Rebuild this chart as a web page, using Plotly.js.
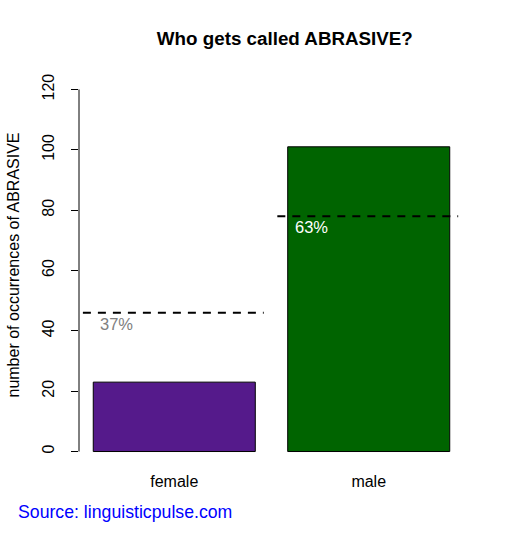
<!DOCTYPE html>
<html>
<head>
<meta charset="utf-8">
<script src="https://cdn.plot.ly/plotly-3.0.1.min.js"></script>
<style>
  body { margin: 0; background: #fff; }
</style>
</head>
<body>
<div id="myDiv"></div>
<script>
// Who gets called ABRASIVE? -- counts by gender, with expected share line

// data
const categories = ['female', 'male'];
const counts = [23, 101];
const expected = [46, 78];          // dashed reference line per bar
const shares = ['37%', '63%'];
const yTicks = [0, 20, 40, 60, 80, 100, 120];

// styles
const barColors = ['#551A8B', '#006400'];
const shareColors = ['#808080', '#FFFFFF'];
const FONT = 'Liberation Sans, Arial, sans-serif';

let trace = {
    type: 'bar',
    x: categories,
    y: counts,
    width: 0.8333,
    marker: {
        color: barColors,
        line: { color: '#000000', width: 1 }
    },
    hoverinfo: 'none'
};

// dashed lines over each bar
let shapes = [];
for (let i = 0; i < categories.length; i++) {
    shapes.push({
        type: 'line', xref: 'x', yref: 'y',
        x0: i - 0.47, x1: i + 0.46,
        y0: expected[i], y1: expected[i],
        line: { color: '#000000', width: 2, dash: '8px,7px' }
    });
}
// y axis line only from 0 to 120 like R
shapes.push({
    type: 'line', xref: 'paper', yref: 'y',
    x0: 0, x1: 0, y0: yTicks[0], y1: yTicks[yTicks.length - 1],
    line: { color: '#000000', width: 1 }
});

let annotations = [];
for (let i = 0; i < categories.length; i++) {
    annotations.push({
        xref: 'x', yref: 'y',
        x: i - 0.296, y: expected[i] - 3.6,
        text: shares[i], showarrow: false,
        xanchor: 'center', yanchor: 'middle',
        font: { family: FONT, size: 16.5, color: shareColors[i] }
    });
}
// y axis title
annotations.push({
    xref: 'paper', yref: 'paper', x: 0, y: 0.5,
    xshift: -66, yshift: 5,
    text: 'number of occurrences of ABRASIVE', textangle: -90,
    showarrow: false, xanchor: 'center', yanchor: 'middle',
    font: { family: FONT, size: 16, color: '#000000' }
});
// source note
annotations.push({
    xref: 'paper', yref: 'paper', x: 0, y: 0,
    xshift: -63, yshift: -45.5,
    text: 'Source: linguisticpulse.com',
    showarrow: false, xanchor: 'left', yanchor: 'middle',
    font: { family: FONT, size: 17.7, color: '#0000FF' }
});

let layout = {
    width: 505,
    height: 550,
    margin: { l: 79, r: 41, t: 75, b: 84, pad: 0 },
    paper_bgcolor: '#ffffff',
    plot_bgcolor: '#ffffff',
    showlegend: false,
    font: { family: FONT, size: 16, color: '#000000' },
    title: {
        text: '<b>Who gets called ABRASIVE?</b>',
        font: { family: FONT, size: 18.8, color: '#000000' },
        x: 270 / 505, xanchor: 'center', xref: 'paper',
        y: 1 - 38 / 550, yanchor: 'middle', yref: 'container'
    },
    xaxis: {
        type: 'category',
        range: [-0.49, 1.49],
        showline: false, showgrid: false, zeroline: false,
        ticks: '',
        tickfont: { family: FONT, size: 16, color: '#000000' },
        ticklabelstandoff: 4
    },
    yaxis: {
        range: [-4.8, 124.8],
        tickvals: yTicks,
        ticktext: yTicks.map(String),
        tickangle: -90,
        ticks: 'outside', ticklen: 7, tickwidth: 1, tickcolor: '#000000',
        ticklabelstandoff: 11,
        showline: false, showgrid: false, zeroline: false,
        tickfont: { family: FONT, size: 16, color: '#000000' }
    },
    shapes: shapes,
    annotations: annotations
};

Plotly.newPlot('myDiv', [trace], layout, { displayModeBar: false, staticPlot: true });
</script>
</body>
</html>
